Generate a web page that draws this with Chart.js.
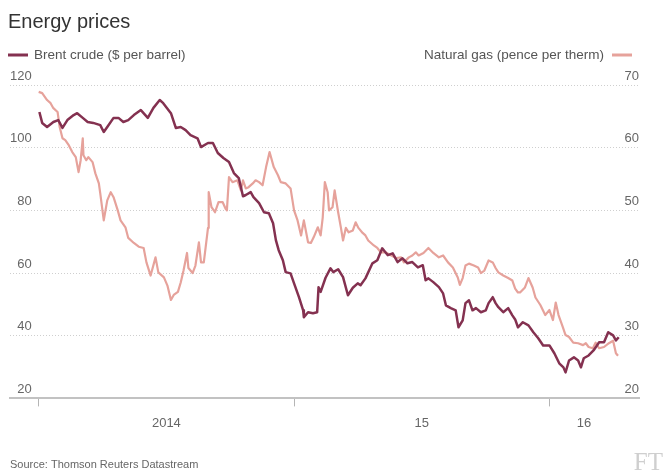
<!DOCTYPE html>
<html>
<head>
<meta charset="utf-8">
<script src="https://cdn.jsdelivr.net/npm/chart.js@4/dist/chart.umd.min.js"></script>
<style>
  html, body { margin: 0; padding: 0; background: #ffffff; }
  canvas { display: block; }
</style>
</head>
<body>
<canvas id="chart" width="665" height="471"></canvas>
<script>
// Brent crude, $ per barrel
const brentDates = [
  '2014-01-02','2014-01-06','2014-01-13','2014-01-22','2014-01-29','2014-02-04','2014-02-11','2014-02-20',
  '2014-02-25','2014-03-05','2014-03-12','2014-03-20','2014-03-30','2014-04-04','2014-04-09','2014-04-18',
  '2014-04-25','2014-05-02','2014-05-09','2014-05-17','2014-05-27','2014-06-06','2014-06-14','2014-06-23',
  '2014-06-28','2014-07-09','2014-07-16','2014-07-23','2014-07-30','2014-08-06','2014-08-16','2014-08-21',
  '2014-08-31','2014-09-07','2014-09-14','2014-09-22','2014-09-30','2014-10-07','2014-10-14','2014-10-20',
  '2014-10-24','2014-10-31','2014-11-04','2014-11-12','2014-11-19','2014-11-26','2014-12-02','2014-12-06',
  '2014-12-10','2014-12-16','2014-12-20','2014-12-27','2015-01-01','2015-01-08','2015-01-14','2015-01-15',
  '2015-01-21','2015-01-28','2015-02-03','2015-02-05','2015-02-08','2015-02-15','2015-02-22','2015-02-26',
  '2015-03-05','2015-03-12','2015-03-19','2015-03-26','2015-04-02','2015-04-06','2015-04-13','2015-04-23',
  '2015-04-30','2015-05-07','2015-05-15','2015-05-22','2015-05-29','2015-06-05','2015-06-12','2015-06-19',
  '2015-06-27','2015-07-04','2015-07-08','2015-07-12','2015-07-19','2015-07-27','2015-08-02','2015-08-06',
  '2015-08-13','2015-08-20','2015-08-24','2015-08-30','2015-09-03','2015-09-08','2015-09-13','2015-09-18',
  '2015-09-25','2015-10-02','2015-10-06','2015-10-12','2015-10-16','2015-10-20','2015-10-27','2015-11-03',
  '2015-11-09','2015-11-13','2015-11-17','2015-11-24','2015-12-02','2015-12-09','2015-12-16','2015-12-23',
  '2016-01-01','2016-01-08','2016-01-15','2016-01-21','2016-01-24','2016-01-29','2016-02-05','2016-02-11',
  '2016-02-15','2016-02-19','2016-02-26','2016-03-04','2016-03-12','2016-03-19','2016-03-25','2016-04-01',
  '2016-04-05','2016-04-09'
];
const brentPrices = [
  111.4,107.9,106.6,108.2,108.8,106.3,108.8,110.4,
  111.0,109.5,108.2,107.9,107.2,105.0,106.6,109.5,
  109.5,108.2,108.8,110.4,112.0,109.5,112.7,115.2,
  114.2,111.0,106.3,106.6,105.6,104.0,103.0,100.2,
  101.5,101.5,98.3,96.7,95.4,91.9,90.3,84.5,
  84.9,85.8,84.2,82.3,79.4,79.1,75.9,70.5,
  67.3,64.1,60.3,59.9,56.7,52.3,48.1,45.9,
  47.5,47.2,47.5,55.5,54.0,58.5,61.5,60.3,
  61.2,58.7,52.9,55.3,56.7,56.1,58.3,63.1,
  64.1,67.9,65.7,66.3,63.5,64.7,63.1,63.5,
  61.8,62.5,57.7,58.3,57.1,55.5,53.5,49.7,
  48.8,48.1,42.7,44.9,50.4,51.3,48.1,48.8,
  47.5,48.1,50.4,52.3,50.4,49.1,47.5,48.8,
  46.5,45.2,42.7,44.3,43.3,41.1,39.2,36.9,
  36.9,34.4,31.2,29.9,28.3,32.1,33.1,32.1,
  29.9,32.8,33.7,35.3,37.9,37.9,41.1,40.1,
  38.5,39.5
];

// Natural gas, pence per therm
const gasDates = [
  '2014-01-01','2014-01-06','2014-01-13','2014-01-18','2014-01-22','2014-01-28','2014-01-31','2014-02-04',
  '2014-02-08','2014-02-13','2014-02-18','2014-02-23','2014-02-27','2014-03-02','2014-03-05','2014-03-06',
  '2014-03-10','2014-03-13','2014-03-19','2014-03-23','2014-03-28','2014-03-30','2014-04-04','2014-04-09',
  '2014-04-14','2014-04-18','2014-04-24','2014-04-28','2014-05-05','2014-05-09','2014-05-17','2014-05-24',
  '2014-05-31','2014-06-04','2014-06-10','2014-06-17','2014-06-21','2014-06-29','2014-07-04','2014-07-09',
  '2014-07-13','2014-07-19','2014-07-23','2014-07-27','2014-08-01','2014-08-03','2014-08-09','2014-08-13',
  '2014-08-18','2014-08-21','2014-08-25','2014-08-31','2014-09-01','2014-09-05','2014-09-10','2014-09-15',
  '2014-09-21','2014-09-25','2014-09-27','2014-09-30','2014-10-05','2014-10-12','2014-10-17','2014-10-20',
  '2014-10-24','2014-10-28','2014-11-03','2014-11-07','2014-11-12','2014-11-17','2014-11-22','2014-11-27',
  '2014-12-03','2014-12-09','2014-12-13','2014-12-20','2014-12-27','2015-01-01','2015-01-06','2015-01-11',
  '2015-01-15','2015-01-21','2015-01-25','2015-01-29','2015-02-04','2015-02-08','2015-02-11','2015-02-14',
  '2015-02-18','2015-02-20','2015-02-25','2015-02-28','2015-03-05','2015-03-09','2015-03-12','2015-03-16',
  '2015-03-20','2015-03-26','2015-03-30','2015-04-03','2015-04-09','2015-04-13','2015-04-17','2015-04-25',
  '2015-04-30','2015-05-05','2015-05-12','2015-05-20','2015-05-27','2015-06-03','2015-06-07','2015-06-14',
  '2015-06-19','2015-06-24','2015-06-28','2015-07-05','2015-07-12','2015-07-19','2015-07-27','2015-08-02',
  '2015-08-09','2015-08-16','2015-08-23','2015-08-26','2015-08-30','2015-09-03','2015-09-08','2015-09-15',
  '2015-09-21','2015-09-25','2015-09-30','2015-10-06','2015-10-12','2015-10-16','2015-10-20','2015-10-27',
  '2015-11-03','2015-11-09','2015-11-13','2015-11-17','2015-11-20','2015-11-27','2015-12-02','2015-12-08',
  '2015-12-12','2015-12-19','2015-12-26','2016-01-01','2016-01-06','2016-01-10','2016-01-14','2016-01-20',
  '2016-01-24','2016-01-29','2016-02-04','2016-02-11','2016-02-18','2016-02-22','2016-02-26','2016-03-03',
  '2016-03-07','2016-03-12','2016-03-19','2016-03-26','2016-04-01','2016-04-05','2016-04-08'
];
const gasPrices = [
  68.9,68.7,67.6,67.1,66.3,65.7,63.3,61.5,
  61.2,60.4,59.3,58.5,56.1,58.0,61.5,58.8,
  58.0,58.5,57.7,55.9,54.3,52.7,48.4,51.6,
  52.9,52.1,50.0,48.4,47.3,45.6,44.8,44.2,
  44.0,41.7,39.6,42.5,40.1,39.3,38.0,35.7,
  36.5,37.0,38.5,40.4,43.2,40.8,40.0,41.2,
  44.9,41.7,41.7,47.2,52.9,50.5,49.7,51.3,
  51.3,50.3,50.0,55.3,54.5,54.8,53.2,54.8,
  53.5,53.7,54.3,54.8,54.5,54.0,56.9,59.3,
  56.9,55.6,54.5,54.3,53.5,50.0,48.4,46.0,
  48.4,44.9,44.8,45.7,47.3,46.0,48.9,54.5,
  52.9,50.0,50.5,53.2,49.7,47.2,45.2,47.2,
  46.5,46.8,48.1,47.2,46.4,46.0,45.2,44.4,
  44.0,43.3,43.3,42.8,42.4,42.5,41.7,42.5,
  42.8,43.3,42.8,43.2,44.0,43.2,42.5,42.8,
  41.7,40.9,39.3,38.1,39.2,41.2,41.5,41.2,
  40.9,40.0,40.4,42.0,41.7,40.8,40.1,39.6,
  39.2,38.8,37.5,36.9,36.9,37.7,39.2,37.7,
  36.1,34.9,33.3,34.1,32.5,35.3,33.3,31.4,
  30.1,29.8,28.9,28.8,28.5,28.8,28.2,28.0,
  28.9,28.0,28.2,28.8,29.2,27.2,26.8
];

// Axis definitions
const yearStarts = ['2014-01-01', '2015-01-01', '2016-01-01'];
const yearLabels = ['2014', '15', '16'];
const brentAxis = { min: 20, max: 120, step: 20 };
const gasAxis = { min: 20, max: 70, step: 10 };

const titleText = 'Energy prices';
const brentLabel = 'Brent crude ($ per barrel)';
const gasLabel = 'Natural gas (pence per therm)';
const sourceText = 'Source: Thomson Reuters Datastream';

const BRENT_COLOUR = '#843150';
const GAS_COLOUR = '#e6a29b';
const TEXT_GREY = '#666666';
const FONT = '"Liberation Sans", Arial, sans-serif';

// Days since the first of January 2014
const DAY0 = Date.parse('2014-01-01');
const toDay = s => (Date.parse(s) - DAY0) / 864e5;

const brentPoints = brentDates.map((d, i) => ({ x: toDay(d), y: brentPrices[i] }));
const gasPoints = gasDates.map((d, i) => ({ x: toDay(d), y: gasPrices[i] }));

const X_MIN = -41;
const X_MAX = 858;
const lastDay = Math.max(toDay(brentDates[brentDates.length - 1]), toDay(gasDates[gasDates.length - 1]));
const yearDays = yearStarts.map(toDay);
// Year names sit in the middle of the part of each year that carries data
const yearLabelDays = yearDays.map((d, i) => {
  const end = i + 1 < yearDays.length ? yearDays[i + 1] : lastDay;
  return (Math.max(d, 0) + Math.min(end, lastDay)) / 2;
});

const decorations = {
  id: 'decorations',
  afterDraw(chart) {
    const ctx = chart.ctx;
    ctx.save();
    // Title
    ctx.fillStyle = '#333333';
    ctx.font = '20px ' + FONT;
    ctx.textAlign = 'left';
    ctx.textBaseline = 'alphabetic';
    ctx.fillText(titleText, 8, 28);

    // Key
    ctx.font = '13.5px ' + FONT;
    ctx.textBaseline = 'middle';
    ctx.lineWidth = 3;
    ctx.strokeStyle = BRENT_COLOUR;
    ctx.beginPath(); ctx.moveTo(8, 55); ctx.lineTo(28, 55); ctx.stroke();
    ctx.fillStyle = '#555555';
    ctx.fillText(brentLabel, 34, 55);

    ctx.strokeStyle = GAS_COLOUR;
    ctx.beginPath(); ctx.moveTo(612, 55); ctx.lineTo(632, 55); ctx.stroke();
    ctx.textAlign = 'right';
    ctx.fillText(gasLabel, 604, 55);

    // Source
    ctx.textAlign = 'left';
    ctx.font = '11px ' + FONT;
    ctx.fillStyle = '#666666';
    ctx.fillText(sourceText, 10, 465);

    // Masthead mark
    ctx.textAlign = 'right';
    ctx.textBaseline = 'alphabetic';
    ctx.font = '25px "Liberation Serif", "DejaVu Serif", serif';
    ctx.fillStyle = '#cfcfcf';
    ctx.fillText('FT', 663, 470);
    ctx.restore();
  }
};

new Chart(document.getElementById('chart'), {
  type: 'line',
  data: {
    datasets: [
      {
        label: brentLabel,
        data: brentPoints,
        yAxisID: 'y',
        borderColor: BRENT_COLOUR,
        borderWidth: 2.5,
        pointRadius: 0,
        tension: 0,
        borderJoinStyle: 'round'
      },
      {
        label: gasLabel,
        data: gasPoints,
        yAxisID: 'y2',
        borderColor: GAS_COLOUR,
        borderWidth: 2.2,
        pointRadius: 0,
        tension: 0,
        borderJoinStyle: 'round'
      }
    ]
  },
  options: {
    responsive: false,
    animation: false,
    devicePixelRatio: 1,
    layout: { padding: { top: 85, left: 10, right: 26, bottom: 39 } },
    plugins: { legend: { display: false }, title: { display: false }, tooltip: { enabled: false } },
    scales: {
      x: {
        type: 'linear',
        position: 'bottom',
        weight: 0,
        min: X_MIN,
        max: X_MAX,
        afterBuildTicks: axis => { axis.ticks = yearDays.map(v => ({ value: v })); },
        ticks: { display: false },
        grid: { drawOnChartArea: false, drawTicks: true, tickLength: 8, color: '#b5b5b5', lineWidth: 1 },
        border: { display: true, color: '#c2c2c2', width: 2 }
      },
      xYears: {
        type: 'linear',
        position: 'bottom',
        weight: 1,
        min: X_MIN,
        max: X_MAX,
        afterBuildTicks: axis => { axis.ticks = yearLabelDays.map(v => ({ value: v })); },
        ticks: {
          autoSkip: false,
          maxRotation: 0,
          padding: 1,
          color: TEXT_GREY,
          font: { family: FONT, size: 13 },
          callback: (value, index) => yearLabels[index]
        },
        grid: { display: false },
        border: { display: false }
      },
      y: {
        position: 'left',
        min: brentAxis.min,
        max: brentAxis.max,
        ticks: {
          stepSize: brentAxis.step,
          mirror: true,
          padding: 0,
          labelOffset: -9,
          crossAlign: 'far',
          color: TEXT_GREY,
          font: { family: FONT, size: 13 }
        },
        grid: {
          drawTicks: false,
          color: ctx => (ctx.tick && ctx.tick.value === brentAxis.min) ? 'rgba(0,0,0,0)' : '#cfcfcf',
          lineWidth: 1
        },
        border: { display: false, dash: [1, 2] }
      },
      y2: {
        position: 'right',
        min: gasAxis.min,
        max: gasAxis.max,
        ticks: {
          stepSize: gasAxis.step,
          mirror: true,
          padding: 0,
          labelOffset: -9,
          color: TEXT_GREY,
          font: { family: FONT, size: 13 }
        },
        grid: { display: false, drawTicks: false },
        border: { display: false }
      }
    }
  },
  plugins: [decorations]
});
</script>
</body>
</html>
